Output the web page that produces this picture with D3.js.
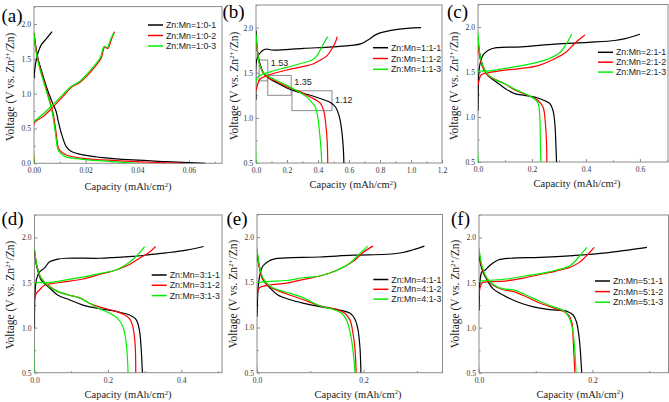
<!DOCTYPE html>
<html><head><meta charset="utf-8">
<script src="https://cdn.jsdelivr.net/npm/d3@7"></script>
<style>body{margin:0;background:#fff;} svg{display:block;} .serif{font-family:"Times New Roman","Liberation Serif","DejaVu Serif",serif;} .sans{font-family:Arial,"Liberation Sans","DejaVu Sans",sans-serif;}</style>
</head><body><svg id="chart" width="669" height="402"></svg>
<script>
// ---------------- DATA ----------------
const seriesColors = ["#000000", "#ff0000", "#00ee00"];

const panelA = [
  {name: "Zn:Mn=1:0-1",
   charge: [[0,1.22],[0.0006,1.43],[0.0015,1.58],[0.0028,1.70],[0.0048,1.79],[0.0070,1.89]],
   discharge: [[0,1.87],[0.0015,1.51],[0.0028,1.34],[0.0048,1.10],[0.0067,0.91],[0.0086,0.74],[0.0093,0.62],[0.0106,0.43],[0.0125,0.24],[0.0145,0.17],[0.019,0.12],[0.0254,0.086],[0.0383,0.048],[0.0512,0.024],[0.0665,0.0]]},
  {name: "Zn:Mn=1:0-2",
   charge: [[0,0],[0,0.57],[0.0009,0.61],[0.0035,0.67],[0.0074,0.81],[0.0112,0.96],[0.0145,1.09],[0.0177,1.16],[0.0209,1.27],[0.0241,1.41],[0.026,1.51],[0.0274,1.67],[0.0286,1.65],[0.0299,1.77],[0.0312,1.89]],
   discharge: [[0,1.87],[0.0009,1.6],[0.0022,1.39],[0.0041,1.15],[0.006,0.91],[0.0074,0.72],[0.0086,0.43],[0.0093,0.24],[0.0099,0.19],[0.0125,0.12],[0.019,0.072],[0.032,0.038],[0.045,0.015],[0.0583,0.0]]},
  {name: "Zn:Mn=1:0-3",
   charge: [[0,0],[0,0.6],[0.0006,0.62],[0.003,0.69],[0.007,0.83],[0.011,0.98],[0.0142,1.1],[0.0175,1.17],[0.0205,1.28],[0.0238,1.42],[0.0257,1.52],[0.0272,1.68],[0.0283,1.66],[0.0297,1.78],[0.031,1.89]],
   discharge: [[0,1.87],[0.0008,1.6],[0.002,1.39],[0.0039,1.15],[0.0058,0.91],[0.0071,0.72],[0.0083,0.43],[0.009,0.24],[0.0097,0.17],[0.012,0.1],[0.018,0.06],[0.028,0.03],[0.0396,0.0]]}
];

const panelB = [
  {name: "Zn:Mn=1:1-1",
   charge: [[0,1.2],[0.004,1.64],[0.022,1.71],[0.058,1.76],[0.113,1.75],[0.307,1.77],[0.524,1.79],[0.675,1.82],[0.719,1.86],[0.784,1.93],[0.913,1.98],[1.065,2.0]],
   discharge: [[0,1.97],[0.009,1.75],[0.022,1.62],[0.048,1.5],[0.091,1.43],[0.145,1.38],[0.199,1.33],[0.264,1.29],[0.351,1.25],[0.437,1.2],[0.48,1.17],[0.513,1.12],[0.535,1.03],[0.55,0.9],[0.563,0.67],[0.567,0.5]]},
  {name: "Zn:Mn=1:1-2",
   charge: [[0,1.30],[0.009,1.36],[0.026,1.43],[0.091,1.48],[0.199,1.53],[0.307,1.57],[0.372,1.6],[0.416,1.64],[0.459,1.69],[0.491,1.77],[0.513,1.84],[0.524,1.9]],
   discharge: [[0,1.88],[0.011,1.71],[0.026,1.58],[0.058,1.47],[0.134,1.40],[0.221,1.33],[0.286,1.29],[0.351,1.23],[0.394,1.19],[0.416,1.16],[0.437,1.08],[0.45,0.93],[0.459,0.75],[0.463,0.5]]},
  {name: "Zn:Mn=1:1-3",
   charge: [[0,0.5],[0,1.41],[0.015,1.46],[0.091,1.51],[0.199,1.56],[0.307,1.61],[0.361,1.64],[0.394,1.69],[0.426,1.79],[0.448,1.86],[0.463,1.9]],
   discharge: [[0,1.93],[0.009,1.75],[0.022,1.6],[0.048,1.5],[0.113,1.43],[0.199,1.36],[0.264,1.30],[0.329,1.23],[0.361,1.17],[0.383,1.12],[0.398,1.01],[0.411,0.82],[0.42,0.64],[0.424,0.5]]}
];

const boxesB = [
  {x0: 0.02, x1: 0.076, y0: 1.41, y1: 1.64, labelY: 1.61, label: "1.53"},
  {x0: 0.076, x1: 0.227, y0: 1.25, y1: 1.47, labelY: 1.40, label: "1.35"},
  {x0: 0.232, x1: 0.49, y0: 1.08, y1: 1.30, labelY: 1.20, label: "1.12"}
];

const panelC = [
  {name: "Zn:Mn=2:1-1",
   charge: [[0,1.07],[0.004,1.52],[0.009,1.61],[0.019,1.69],[0.037,1.74],[0.068,1.77],[0.161,1.78],[0.285,1.81],[0.408,1.83],[0.507,1.85],[0.545,1.87],[0.6,1.92]],
   discharge: [[0,1.89],[0.006,1.71],[0.019,1.56],[0.037,1.46],[0.068,1.39],[0.099,1.32],[0.136,1.26],[0.173,1.24],[0.21,1.22],[0.248,1.18],[0.266,1.15],[0.278,1.07],[0.285,0.92],[0.288,0.74],[0.291,0.5]]},
  {name: "Zn:Mn=2:1-2",
   charge: [[0,1.35],[0.004,1.41],[0.012,1.47],[0.037,1.49],[0.099,1.52],[0.161,1.54],[0.223,1.57],[0.272,1.63],[0.322,1.71],[0.359,1.82],[0.396,1.91]],
   discharge: [[0,1.87],[0.006,1.67],[0.019,1.54],[0.037,1.46],[0.068,1.41],[0.099,1.37],[0.136,1.3],[0.186,1.24],[0.223,1.18],[0.241,1.11],[0.25,0.92],[0.254,0.7],[0.255,0.5]]},
  {name: "Zn:Mn=2:1-3",
   charge: [[0,0.5],[0,1.5],[0.006,1.51],[0.037,1.51],[0.099,1.54],[0.161,1.57],[0.223,1.61],[0.272,1.66],[0.305,1.72],[0.325,1.8],[0.347,1.92]],
   discharge: [[0,1.93],[0.006,1.71],[0.019,1.56],[0.037,1.47],[0.068,1.41],[0.099,1.37],[0.136,1.31],[0.186,1.24],[0.21,1.2],[0.223,1.15],[0.229,1.0],[0.231,0.74],[0.233,0.5]]}
];

const panelD = [
  {name: "Zn:Mn=3:1-1",
   charge: [[0,1.0],[0.005,1.53],[0.014,1.62],[0.027,1.66],[0.041,1.73],[0.064,1.76],[0.086,1.77],[0.177,1.77],[0.223,1.78],[0.268,1.79],[0.314,1.81],[0.359,1.83],[0.414,1.86],[0.461,1.9]],
   discharge: [[0,1.84],[0.006,1.68],[0.018,1.53],[0.041,1.44],[0.064,1.36],[0.095,1.31],[0.132,1.25],[0.177,1.21],[0.223,1.18],[0.259,1.14],[0.277,1.09],[0.286,0.97],[0.291,0.75],[0.294,0.5]]},
  {name: "Zn:Mn=3:1-2",
   charge: [[0,1.31],[0.005,1.38],[0.014,1.42],[0.027,1.47],[0.05,1.49],[0.086,1.51],[0.132,1.54],[0.177,1.59],[0.223,1.64],[0.259,1.70],[0.286,1.77],[0.314,1.84],[0.33,1.9]],
   discharge: [[0,1.86],[0.006,1.70],[0.018,1.55],[0.041,1.46],[0.064,1.4],[0.095,1.36],[0.123,1.33],[0.15,1.27],[0.177,1.23],[0.214,1.19],[0.241,1.15],[0.259,1.1],[0.268,1.01],[0.274,0.83],[0.276,0.5]]},
  {name: "Zn:Mn=3:1-3",
   charge: [[0,0.5],[0,1.49],[0.005,1.5],[0.041,1.5],[0.086,1.53],[0.132,1.56],[0.177,1.6],[0.223,1.64],[0.25,1.7],[0.277,1.79],[0.3,1.9]],
   discharge: [[0,1.88],[0.006,1.70],[0.018,1.55],[0.041,1.45],[0.064,1.4],[0.095,1.36],[0.123,1.33],[0.15,1.27],[0.177,1.21],[0.205,1.16],[0.227,1.1],[0.241,1.01],[0.25,0.83],[0.255,0.5]]}
];

const panelE = [
  {name: "Zn:Mn=4:1-1",
   charge: [[0,1.12],[0.002,1.42],[0.005,1.57],[0.011,1.68],[0.021,1.73],[0.033,1.76],[0.055,1.77],[0.118,1.78],[0.18,1.8],[0.243,1.81],[0.274,1.83],[0.293,1.86],[0.314,1.9]],
   discharge: [[0,1.84],[0.004,1.68],[0.011,1.53],[0.024,1.44],[0.039,1.36],[0.061,1.31],[0.086,1.27],[0.118,1.23],[0.149,1.2],[0.174,1.16],[0.183,1.1],[0.189,0.99],[0.193,0.79],[0.195,0.5]]},
  {name: "Zn:Mn=4:1-2",
   charge: [[0,1.31],[0.0025,1.42],[0.008,1.45],[0.024,1.47],[0.055,1.49],[0.086,1.53],[0.118,1.57],[0.149,1.63],[0.18,1.73],[0.199,1.83],[0.2175,1.9]],
   discharge: [[0,1.86],[0.004,1.68],[0.011,1.53],[0.024,1.45],[0.0425,1.4],[0.061,1.36],[0.086,1.31],[0.118,1.24],[0.149,1.2],[0.164,1.16],[0.174,1.09],[0.18,0.94],[0.184,0.75],[0.186,0.5]]},
  {name: "Zn:Mn=4:1-3",
   charge: [[0,0.5],[0,1.49],[0.005,1.5],[0.024,1.51],[0.055,1.52],[0.086,1.55],[0.118,1.57],[0.149,1.63],[0.174,1.71],[0.193,1.82],[0.208,1.9]],
   discharge: [[0,1.88],[0.004,1.70],[0.011,1.55],[0.024,1.46],[0.0425,1.41],[0.061,1.38],[0.086,1.33],[0.118,1.24],[0.1425,1.2],[0.158,1.16],[0.1675,1.09],[0.175,0.94],[0.18,0.75],[0.184,0.5]]}
];

const panelF = [
  {name: "Zn:Mn=5:1-1",
   charge: [[0,1.19],[0.002,1.53],[0.005,1.62],[0.011,1.64],[0.019,1.69],[0.034,1.75],[0.055,1.77],[0.108,1.78],[0.166,1.80],[0.225,1.83],[0.296,1.89]],
   discharge: [[0,1.82],[0.005,1.65],[0.014,1.53],[0.025,1.43],[0.043,1.36],[0.066,1.29],[0.096,1.23],[0.125,1.2],[0.155,1.18],[0.166,1.14],[0.172,1.06],[0.177,0.86],[0.181,0.5]]},
  {name: "Zn:Mn=5:1-2",
   charge: [[0,1.34],[0.002,1.45],[0.0065,1.5],[0.019,1.51],[0.049,1.52],[0.078,1.55],[0.108,1.59],[0.137,1.63],[0.161,1.67],[0.178,1.73],[0.193,1.82],[0.203,1.89]],
   discharge: [[0,1.86],[0.005,1.67],[0.014,1.54],[0.025,1.47],[0.043,1.42],[0.061,1.4],[0.084,1.34],[0.108,1.27],[0.131,1.22],[0.146,1.19],[0.158,1.14],[0.164,1.05],[0.166,0.86],[0.169,0.5]]},
  {name: "Zn:Mn=5:1-3",
   charge: [[0,0.5],[0,1.51],[0.008,1.52],[0.049,1.54],[0.078,1.57],[0.108,1.6],[0.137,1.64],[0.161,1.69],[0.178,1.8],[0.19,1.89]],
   discharge: [[0,1.89],[0.005,1.69],[0.014,1.55],[0.025,1.48],[0.043,1.43],[0.061,1.42],[0.084,1.36],[0.108,1.29],[0.131,1.23],[0.149,1.19],[0.158,1.12],[0.164,1.01],[0.168,0.82],[0.171,0.5]]}
];

const xTicksA = [0, 0.02, 0.04, 0.06];
const xTicksB = [0, 0.2, 0.4, 0.6, 0.8, 1.0, 1.2];
const xTicksC = [0, 0.2, 0.4, 0.6];
const xTicksD = [0, 0.2, 0.4];
const xTicksE = [0, 0.2];
const xTicksF = [0, 0.2];
const yTicksA = [0, 0.5, 1.0, 1.5, 2.0];
const yTicksBF = [0.5, 1.0, 1.5, 2.0];
const panelLetters = ["(a)", "(b)", "(c)", "(d)", "(e)", "(f)"];

// ---------------- LAYOUT ----------------
const panels = [
  {data: panelA, rect: [34, 6.6, 222, 163.3], xDom: [0, 0.0728], yDom: [0, 2.25], xTicks: xTicksA, xMinorStep: 0.01, yTicks: yTicksA, xFmt: ".2f",
   letter: [1.5, 21.5], legend: [148, 25, 10.5], xTitle: [128, 190], yTitle: [10, 87]},
  {data: panelB, rect: [256, 5, 442, 163], xDom: [0, 1.2], yDom: [0.5, 2.25], xTicks: xTicksB, xMinorStep: 0.1, yTicks: yTicksBF, xFmt: ".1f",
   letter: [222.5, 17.5], legend: [373, 47.7, 10.8], xTitle: [353, 188], yTitle: [234, 86], boxes: boxesB},
  {data: panelC, rect: [478, 4.5, 668, 162], xDom: [0, 0.704], yDom: [0.5, 2.25], xTicks: xTicksC, xMinorStep: 0.1, yTicks: yTicksBF, xFmt: ".1f",
   letter: [447, 18], legend: [598, 52.3, 9.9], xTitle: [577, 187], yTitle: [454, 86]},
  {data: panelD, rect: [34.5, 215, 222, 372.7], xDom: [0, 0.511], yDom: [0.5, 2.25], xTicks: xTicksD, xMinorStep: 0.1, yTicks: yTicksBF, xFmt: ".1f",
   letter: [1.5, 225], legend: [151.7, 275, 10.3], xTitle: [128, 398], yTitle: [10, 295]},
  {data: panelE, rect: [257, 214.5, 442.5, 372.7], xDom: [0, 0.348], yDom: [0.5, 2.25], xTicks: xTicksE, xMinorStep: 0.1, yTicks: yTicksBF, xFmt: ".1f",
   letter: [226.5, 225], legend: [373.3, 279.5, 9.8], xTitle: [358, 397.5], yTitle: [233, 294]},
  {data: panelF, rect: [479, 215, 668.5, 372.7], xDom: [0, 0.334], yDom: [0.5, 2.25], xTicks: xTicksF, xMinorStep: 0.1, yTicks: yTicksBF, xFmt: ".1f",
   letter: [451, 225], legend: [595, 281, 10.6], xTitle: [580, 397.5], yTitle: [455, 294]}
];

const svg = d3.select("#chart");
const frameColor = "#8c8c8c";

panels.forEach((p, i) => {
  const [L, T, R, B] = p.rect;
  const x = d3.scaleLinear().domain(p.xDom).range([L, R]);
  const y = d3.scaleLinear().domain(p.yDom).range([B, T]);
  const g = svg.append("g");

  const clipId = "clip" + i;
  svg.append("clipPath").attr("id", clipId).append("rect")
    .attr("x", L).attr("y", T - 1).attr("width", R - L).attr("height", B - T + 1);

  const xMinor = d3.range(p.xDom[0], p.xDom[1] + 1e-9, p.xMinorStep).filter(v => !p.xTicks.some(t => Math.abs(t - v) < 1e-9));
  const yMinor = d3.range(p.yDom[0], p.yDom[1] + 1e-9, 0.25).filter(v => !p.yTicks.some(t => Math.abs(t - v) < 1e-9));

  const xAxis = g.append("g").attr("transform", `translate(0,${B})`)
    .call(d3.axisBottom(x).tickValues(p.xTicks).tickFormat(d3.format(p.xFmt)).tickSizeInner(-3).tickSizeOuter(0).tickPadding(4.5));
  const xAxisMinor = g.append("g").attr("transform", `translate(0,${B})`)
    .call(d3.axisBottom(x).tickValues(xMinor).tickFormat("").tickSizeInner(-1.7).tickSizeOuter(0));
  const yAxis = g.append("g").attr("transform", `translate(${L},0)`)
    .call(d3.axisLeft(y).tickValues(p.yTicks).tickFormat(d3.format(".1f")).tickSizeInner(-3).tickSizeOuter(0).tickPadding(3));
  const yAxisMinor = g.append("g").attr("transform", `translate(${L},0)`)
    .call(d3.axisLeft(y).tickValues(yMinor).tickFormat("").tickSizeInner(-1.7).tickSizeOuter(0));

  [xAxis, xAxisMinor, yAxis, yAxisMinor].forEach(a => {
    a.attr("font-family", null).attr("font-size", null).attr("class", "serif");
    a.select(".domain").remove();
    a.selectAll(".tick line").attr("stroke", frameColor).attr("stroke-width", 1);
    a.selectAll("text").attr("class", "serif").style("font-size", "7.6px").attr("fill", "#333");
  });

  g.append("rect").attr("x", L).attr("y", T).attr("width", R - L).attr("height", B - T)
    .attr("fill", "none").attr("stroke", frameColor).attr("stroke-width", 1);

  if (p.boxes) {
    p.boxes.forEach(bx => {
      g.append("rect").attr("x", x(bx.x0)).attr("y", y(bx.y1))
        .attr("width", x(bx.x1) - x(bx.x0)).attr("height", y(bx.y0) - y(bx.y1))
        .attr("fill", "none").attr("stroke", "#8a8a8a").attr("stroke-width", 1);
      g.append("text").attr("class", "sans").attr("x", x(bx.x1) + 3).attr("y", y(bx.labelY))
        .attr("dy", "0.35em").style("font-size", "9px").attr("fill", "#222").text(bx.label);
    });
  }

  const line = d3.line().x(d => x(d[0])).y(d => y(d[1])).curve(d3.curveCatmullRom.alpha(0.5));
  const curves = g.append("g").attr("clip-path", `url(#${clipId})`);
  p.data.forEach((s, k) => {
    [s.discharge, s.charge].forEach(arr => {
      curves.append("path").attr("d", line(arr)).attr("fill", "none")
        .attr("stroke", seriesColors[k]).attr("stroke-width", 1.2).attr("stroke-linejoin", "round");
    });
  });

  const [lx, ly, ldy] = p.legend;
  p.data.forEach((s, k) => {
    const yy = ly + k * ldy;
    g.append("line").attr("x1", lx).attr("x2", lx + 15).attr("y1", yy).attr("y2", yy)
      .attr("stroke", seriesColors[k]).attr("stroke-width", 1.5);
    g.append("text").attr("class", "sans").attr("x", lx + 18).attr("y", yy).attr("dy", "0.35em")
      .style("font-size", "8.8px").attr("fill", "#222").text(s.name);
  });

  svg.append("text").attr("class", "serif").attr("x", p.letter[0]).attr("y", p.letter[1])
    .style("font-size", "19px").attr("fill", "#000").text(panelLetters[i]);

  const xt = svg.append("text").attr("class", "serif").attr("x", p.xTitle[0]).attr("y", p.xTitle[1]).attr("text-anchor", "middle")
    .style("font-size", "10.5px").attr("fill", "#222");
  xt.append("tspan").text("Capacity (mAh/cm");
  xt.append("tspan").attr("dy", -3.5).style("font-size", "6.5px").text("2");
  xt.append("tspan").attr("dy", 3.5).text(")");

  const yt = svg.append("text").attr("class", "serif").attr("transform", `translate(${p.yTitle[0]},${p.yTitle[1]}) rotate(-90)`)
    .attr("text-anchor", "middle").attr("dy", "0.35em")
    .style("font-size", "11.5px").attr("fill", "#222");
  yt.append("tspan").text("Voltage (V vs. Zn");
  yt.append("tspan").attr("dy", -4).style("font-size", "7px").text("2+");
  yt.append("tspan").attr("dy", 4).text("/Zn)");
});
</script>
</body></html>
